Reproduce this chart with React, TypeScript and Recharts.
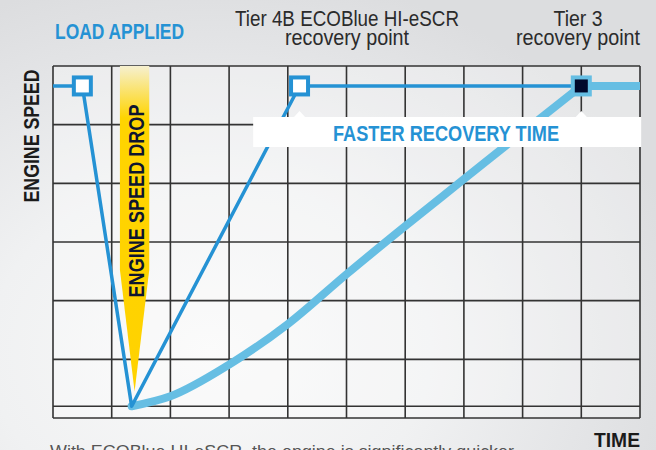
import React from 'react';
import {
  ComposedChart,
  Line,
  Scatter,
  XAxis,
  YAxis,
  CartesianGrid,
  ReferenceLine,
  ReferenceArea,
  ReferenceDot,
} from 'recharts';

// ---- data ----
const xTicks = [0, 1, 2, 3, 4, 5, 6, 7, 8, 9, 10];
const yTicks = [0, 1, 2, 3, 4, 5, 6];

const tier4bX = [0, 0.5, 1.34, 4.2, 9.0];
const tier4bY = [5.66, 5.66, 0.2, 5.66, 5.66];

const tier3X = [1.34, 2, 3, 4, 5, 6, 7, 8, 9];
const tier3Y = [0.2, 0.37, 0.91, 1.6, 2.45, 3.27, 4.07, 4.87, 5.66];
const tier3TailX = [9, 10];
const tier3TailY = [5.66, 5.66];

const openMarkerX = [0.5, 4.2];
const openMarkerY = [5.66, 5.66];
const filledMarkerX = [9];
const filledMarkerY = [5.66];

const baselineY = 0.2;
const dropBand = { x1: 1.14, x2: 1.64, y1: 0.45, y2: 6 };
const recoveryBox = { x1: 3.41, x2: 10.02, y1: 4.62, y2: 5.13 };
const notchX = [4.2, 9.0];

const labels = {
  load: 'LOAD APPLIED',
  tier4b: ['Tier 4B ECOBlue HI-eSCR', 'recovery point'],
  tier3: ['Tier 3', 'recovery point'],
  yTitle: 'ENGINE SPEED',
  drop: 'ENGINE SPEED DROP',
  faster: 'FASTER RECOVERY TIME',
  xTitle: 'TIME',
  caption: 'With ECOBlue HI-eSCR, the engine is significantly quicker',
};

const zip = (xs: number[], ys: number[]) => xs.map((x, i) => ({ x, y: ys[i] }));

const tier4bData = zip(tier4bX, tier4bY);
const tier3Data = zip(tier3X, tier3Y);
const tier3TailData = zip(tier3TailX, tier3TailY);
const openMarkers = zip(openMarkerX, openMarkerY);
const filledMarkers = zip(filledMarkerX, filledMarkerY);

// ---- styles ----
const BLUE = '#2592d4';
const LIGHT = '#66bee3';
const GRID = '#333333';
const FONT = "'Liberation Sans', Arial, sans-serif";

const NoTick = () => <g />;

const OpenSquare = (p: any) => (
  <rect x={p.cx - 8.5} y={p.cy - 8.5} width={17} height={17} fill="#ffffff" stroke={BLUE} strokeWidth={4} />
);
const FilledSquare = (p: any) => (
  <rect x={p.cx - 8.5} y={p.cy - 8.5} width={17} height={17} fill="#00082b" stroke={LIGHT} strokeWidth={4} />
);

const DropShape = (p: any) => {
  const { x, y, width, height } = p;
  const taper = y + height * 0.626;
  return (
    <g>
      <defs>
        <linearGradient id="dropGrad" x1="0" y1="0" x2="0" y2="1">
          <stop offset="0" stopColor="#f6f0cf" />
          <stop offset="0.16" stopColor="#ffd400" />
          <stop offset="1" stopColor="#ffd200" />
        </linearGradient>
      </defs>
      <path
        d={`M${x},${y} H${x + width} V${taper} L${x + width / 2},${y + height} L${x},${taper} Z`}
        fill="url(#dropGrad)"
      />
    </g>
  );
};

const Notch = (p: any) => (
  <path d={`M${p.cx - 6},${p.cy + 0.5} L${p.cx},${p.cy - 6} L${p.cx + 6},${p.cy + 0.5} Z`} fill="#ffffff" />
);

type TProps = {
  x?: number;
  y?: number;
  transform?: string;
  len: number;
  size: number;
  bold?: boolean;
  fill: string;
  anchor?: 'start' | 'middle' | 'end';
  children: string;
};
const T = ({ x = 0, y = 0, transform, len, size, bold, fill, anchor = 'start', children }: TProps) => (
  <text
    x={x}
    y={y}
    transform={transform}
    fill={fill}
    fontSize={size}
    fontWeight={bold ? 'bold' : 'normal'}
    fontFamily={FONT}
    textAnchor={anchor}
    textLength={len}
    lengthAdjust="spacingAndGlyphs"
  >
    {children}
  </text>
);

export default function App() {
  return (
    <div
      style={{
        position: 'absolute',
        left: 0,
        top: 0,
        width: 656,
        height: 450,
        overflow: 'hidden',
        background:
          'radial-gradient(ellipse 75% 85% at 32% 78%, #f9f9f9 0%, #f0f1f2 45%, #e3e4e6 80%, #dcdddf 100%)',
      }}
    >
      <ComposedChart
        width={656}
        height={450}
        margin={{ top: 66, right: 16, bottom: 32, left: 53 }}
        style={{ position: 'absolute', left: 0, top: 0 }}
      >
        <CartesianGrid stroke={GRID} strokeWidth={1.6} fill="rgba(255,255,255,0.3)" />
        <XAxis
          type="number"
          dataKey="x"
          domain={[0, 10]}
          ticks={xTicks}
          interval={0}
          tick={NoTick}
          tickLine={false}
          height={0}
          axisLine={{ stroke: BLUE, strokeWidth: 3 }}
          allowDataOverflow
        />
        <YAxis
          type="number"
          dataKey="y"
          domain={[0, 6]}
          ticks={yTicks}
          interval={0}
          tick={NoTick}
          tickLine={false}
          width={0}
          axisLine={{ stroke: BLUE, strokeWidth: 3 }}
        />
        <ReferenceLine y={baselineY} stroke={GRID} strokeWidth={1.6} />
        <ReferenceArea
          x1={dropBand.x1}
          x2={dropBand.x2}
          y1={dropBand.y1}
          y2={dropBand.y2}
          shape={DropShape}
        />
        <Line
          data={tier3Data}
          dataKey="y"
          type="monotone"
          stroke={LIGHT}
          strokeWidth={8}
          strokeLinecap="round"
          dot={false}
          isAnimationActive={false}
        />
        <Line
          data={tier3TailData}
          dataKey="y"
          type="linear"
          stroke={LIGHT}
          strokeWidth={8}
          strokeLinecap="round"
          dot={false}
          isAnimationActive={false}
        />
        <Line
          data={tier4bData}
          dataKey="y"
          type="linear"
          stroke={BLUE}
          strokeWidth={3.5}
          strokeLinejoin="round"
          dot={false}
          isAnimationActive={false}
        />
        <ReferenceArea
          x1={recoveryBox.x1}
          x2={recoveryBox.x2}
          y1={recoveryBox.y1}
          y2={recoveryBox.y2}
          fill="#ffffff"
          fillOpacity={1}
          stroke="none"
          ifOverflow="visible"
          {...({ zIndex: 450 } as any)}
        />
        {notchX.map((nx) => (
          <ReferenceDot
            key={nx}
            x={nx}
            y={recoveryBox.y2}
            r={6}
            shape={Notch}
            {...({ zIndex: 460 } as any)}
          />
        ))}
        <Scatter data={openMarkers} dataKey="y" shape={OpenSquare} isAnimationActive={false} />
        <Scatter data={filledMarkers} dataKey="y" shape={FilledSquare} isAnimationActive={false} />
      </ComposedChart>
      <svg
        width={656}
        height={450}
        style={{ position: 'absolute', left: 0, top: 0, pointerEvents: 'none' }}
      >
        <T x={55} y={39} len={129} size={22} bold fill={BLUE}>
          {labels.load}
        </T>
        <T x={347} y={26} len={224} size={22} fill="#2b2b2b" anchor="middle">
          {labels.tier4b[0]}
        </T>
        <T x={347} y={45} len={124} size={22} fill="#2b2b2b" anchor="middle">
          {labels.tier4b[1]}
        </T>
        <T x={578} y={26} len={49} size={22} fill="#2b2b2b" anchor="middle">
          {labels.tier3[0]}
        </T>
        <T x={578} y={45} len={124} size={22} fill="#2b2b2b" anchor="middle">
          {labels.tier3[1]}
        </T>
        <T transform="translate(39,136) rotate(-90)" len={133} size={22} bold fill="#1b1b1b" anchor="middle">
          {labels.yTitle}
        </T>
        <T transform="translate(144,201) rotate(-90)" len={193} size={22} bold fill="#0d1530" anchor="middle">
          {labels.drop}
        </T>
        <T x={446} y={141} len={226} size={22} bold fill={BLUE} anchor="middle">
          {labels.faster}
        </T>
        <T x={640} y={447} len={46} size={21} bold fill="#1b1b1b" anchor="end">
          {labels.xTitle}
        </T>
        <T x={50} y={457} len={464} size={17} fill="#555555">
          {labels.caption}
        </T>
      </svg>
    </div>
  );
}
